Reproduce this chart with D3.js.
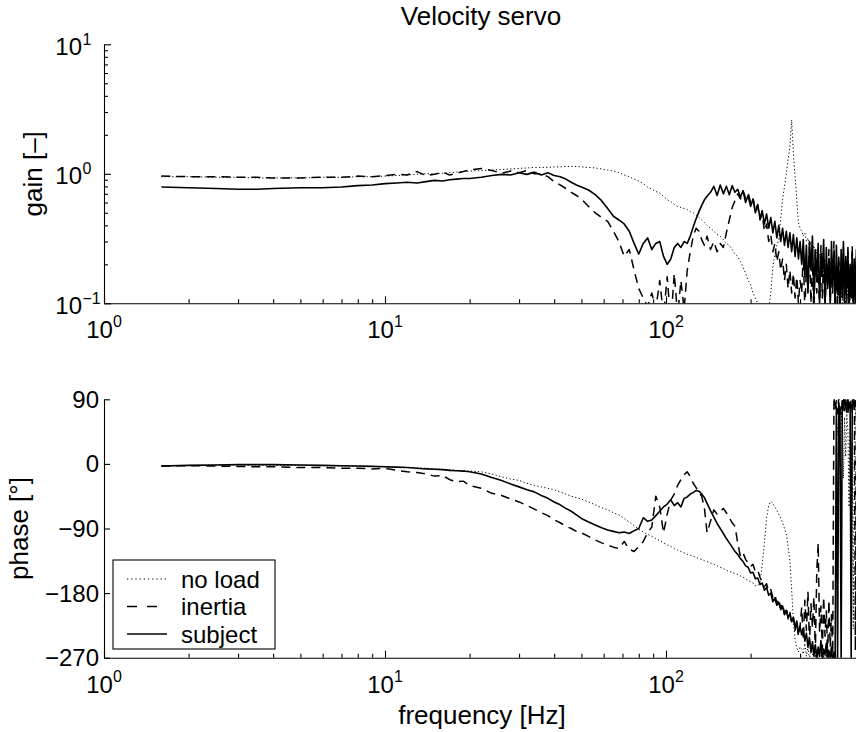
<!DOCTYPE html>
<html><head><meta charset="utf-8">
<script src="https://cdn.jsdelivr.net/npm/d3@7"></script>
<style>
body{margin:0;background:#fff}
text{font-family:"Liberation Sans",Arial,Helvetica,sans-serif;fill:#000}
</style>
</head><body>
<svg id="c" width="856" height="732"></svg>
<script>
// ---------------- DATA ----------------
const freq = [
 1.6,2,2.5,3,3.5,4,5,6,7,8,
 9,10,11,12,13,14,15,16,17,18,
 19,20,22,24,26,28,30,32,34,36,
 38,40,42,44,46,48,50,53,56,59,
 62,65,68,71,74,77,80,83,86,89,
 92,95,98,101,104,107,110,113,116,119,
 122,125,128,131,134,137,140,144,148,152,
 156,160,164,168,172,176,180,184,188,192,
 196,200,204,208,212,216,220,224,228,232,
 236,240,244,248,252,256,260,264,268,272,
 276,280,284,288,292,296,300,
 304,308,312,316,320,324,328,332,336,340,
 344,348,352,356,360,364,368,372,376,380,
 384,388,392,396,400,404,408,412,416,420,
 424,428,432,436,440,444,448,452,456,460,
 464,468,472,476,480
];

const noloadGain = [
 0.95,0.95,0.94,0.94,0.93,0.93,0.93,0.94,0.94,0.95,
 0.95,0.96,0.97,0.98,0.99,1.0,1.0,1.01,1.02,1.03,
 1.04,1.05,1.06,1.07,1.08,1.09,1.1,1.11,1.12,1.12,
 1.12,1.13,1.13,1.14,1.14,1.14,1.13,1.12,1.11,1.09,
 1.07,1.05,1.02,0.98,0.95,0.91,0.88,0.84,0.79,0.76,
 0.73,0.71,0.67,0.63,0.61,0.58,0.56,0.55,0.54,0.53,
 0.51,0.5,0.48,0.46,0.44,0.42,0.4,0.38,0.36,0.34,
 0.33,0.31,0.29,0.28,0.26,0.24,0.23,0.21,0.19,0.17,
 0.15,0.14,0.12,0.11,0.1,0.085,0.07,0.06,0.07,0.09,
 0.12,0.19,0.24,0.28,0.31,0.45,0.63,0.8,1.0,1.3,
 1.6,2.6,1.45,0.95,0.63,0.42,0.38,
 0.36,0.33,0.35,0.3,0.32,0.27,0.3,0.25,0.28,0.22,
 0.26,0.2,0.24,0.18,0.25,0.16,0.22,0.19,0.14,0.21,
 0.17,0.13,0.2,0.15,0.12,0.19,0.14,0.11,0.18,0.13,
 0.1,0.17,0.12,0.09,0.16,0.11,0.14,0.1,0.15,0.12,
 0.09,0.13,0.11,0.14,0.1
];

const inertiaGain = [
 0.96,0.95,0.95,0.94,0.94,0.93,0.93,0.94,0.94,0.96,
 0.95,0.97,0.99,0.98,1.04,0.97,0.99,1.03,0.98,1.01,
 1.04,1.07,1.1,1.06,1.01,1.05,1.02,1.06,1.0,1.0,
 0.95,0.87,0.82,0.77,0.72,0.68,0.64,0.56,0.5,0.46,
 0.43,0.36,0.3,0.23,0.26,0.18,0.13,0.11,0.095,0.12,
 0.09,0.15,0.08,0.16,0.07,0.17,0.08,0.15,0.09,0.18,
 0.25,0.33,0.38,0.36,0.31,0.28,0.33,0.26,0.3,0.25,
 0.29,0.27,0.35,0.44,0.55,0.62,0.7,0.64,0.74,0.65,
 0.71,0.6,0.65,0.52,0.57,0.44,0.49,0.36,0.41,0.3,
 0.34,0.25,0.29,0.21,0.25,0.18,0.22,0.15,0.2,0.13,
 0.18,0.12,0.17,0.11,0.16,0.1,0.15,
 0.12,0.24,0.09,0.19,0.13,0.27,0.1,0.21,0.08,0.25,
 0.12,0.2,0.09,0.28,0.11,0.23,0.08,0.19,0.14,0.26,
 0.09,0.22,0.12,0.3,0.08,0.2,0.1,0.24,0.09,0.18,
 0.13,0.27,0.08,0.21,0.1,0.25,0.09,0.19,0.12,0.28,
 0.08,0.2,0.11,0.23,0.09
];

const subjectGain = [
 0.79,0.78,0.77,0.76,0.76,0.77,0.78,0.78,0.79,0.81,
 0.82,0.84,0.85,0.86,0.85,0.87,0.89,0.88,0.9,0.91,
 0.92,0.92,0.94,0.97,0.99,0.98,1.02,0.99,1.03,0.98,
 1.02,0.97,0.95,0.91,0.86,0.82,0.79,0.75,0.69,0.62,
 0.54,0.47,0.44,0.41,0.36,0.29,0.24,0.29,0.32,0.26,
 0.29,0.3,0.23,0.2,0.22,0.27,0.29,0.27,0.3,0.29,
 0.33,0.39,0.45,0.51,0.57,0.63,0.67,0.72,0.8,0.68,
 0.82,0.7,0.8,0.69,0.81,0.72,0.76,0.66,0.74,0.6,
 0.68,0.56,0.64,0.5,0.58,0.45,0.52,0.41,0.49,0.38,
 0.46,0.35,0.43,0.32,0.4,0.3,0.38,0.28,0.36,0.27,
 0.35,0.25,0.34,0.23,0.32,0.22,0.3,
 0.2,0.31,0.16,0.28,0.12,0.3,0.18,0.33,0.11,0.26,
 0.15,0.29,0.1,0.24,0.17,0.31,0.09,0.27,0.13,0.22,
 0.1,0.3,0.14,0.25,0.09,0.28,0.12,0.21,0.08,0.26,
 0.11,0.3,0.09,0.23,0.13,0.27,0.08,0.2,0.11,0.25,
 0.09,0.22,0.1,0.26,0.12
];

const noloadPhase = [
 -3,-2,-1.5,-1.5,-1.5,-2,-2,-2.5,-3,-3,
 -3.5,-4,-4.5,-5,-5.5,-6,-7,-7.5,-8,-9,
 -9.5,-10,-11,-14,-18,-21,-23,-27,-30,-32,
 -34,-36,-39,-42,-45,-47,-49,-53,-57,-61,
 -64,-68,-71,-76,-81,-86,-91,-95,-98,-101,
 -104,-107,-110,-113,-115,-118,-120,-122,-124,-126,
 -127,-129,-130,-132,-133,-135,-136,-138,-140,-142,
 -144,-146,-148,-150,-151,-153,-154,-156,-158,-160,
 -162,-164,-166,-170,-170,-166,-140,-110,-75,-58,
 -52,-55,-60,-65,-70,-76,-82,-90,-98,-115,
 -135,-175,-220,-245,-256,-262,-255,
 -258,-265,-250,-268,-255,-272,-260,-266,-252,-270,
 -258,-275,-262,-268,-256,-274,-261,-270,-257,-276,
 -264,-270,-259,-275,-266,60,40,75,20,55,
 80,-20,65,10,70,45,-60,50,-140,30,
 -230,40,70,85,60
];

const inertiaPhase = [
 -3,-2.5,-3,-3.5,-4,-4,-5,-5,-6,-6,
 -7,-6,-9,-11,-12,-14,-17,-16,-22,-25,
 -24,-30,-34,-41,-44,-49,-53,-58,-63,-68,
 -72,-78,-82,-87,-90,-94,-96,-101,-106,-110,
 -113,-116,-118,-108,-119,-122,-115,-108,-96,-88,
 -45,-60,-96,-70,-50,-42,-30,-22,-15,-11,
 -18,-27,-33,-40,-45,-62,-96,-80,-64,-70,
 -66,-62,-68,-75,-82,-87,-110,-129,-124,-133,
 -138,-143,-140,-150,-148,-158,-165,-171,-167,-178,
 -175,-186,-182,-194,-188,-201,-195,-209,-200,-216,
 -207,-223,-214,-232,-220,-240,-226,
 -200,-245,-190,-232,-178,-250,-195,-228,-185,-262,
 -150,-110,-235,-198,-258,-185,-240,-205,-268,-190,
 -255,-210,-275,95,75,88,70,92,80,68,
 86,96,74,84,92,70,86,78,90,72,
 85,95,-260,80,88
];

const subjectPhase = [
 -3,-2,-1.5,-1,-1,-1,-1.5,-2,-2.5,-3,
 -3.5,-4,-4.5,-5,-6,-7,-7.5,-8,-9,-9.5,
 -10,-11,-14,-19,-23,-28,-32,-36,-39,-44,
 -48,-53,-57,-62,-66,-71,-76,-81,-85,-89,
 -92,-94,-96,-95,-97,-93,-90,-75,-80,-78,
 -72,-66,-60,-56,-50,-58,-54,-60,-48,-46,
 -42,-40,-37,-38,-42,-47,-55,-65,-74,-83,
 -90,-97,-104,-110,-116,-122,-126,-132,-136,-142,
 -144,-152,-151,-160,-159,-168,-166,-176,-172,-183,
 -180,-192,-187,-197,-193,-203,-198,-210,-204,-214,
 -209,-220,-214,-228,-219,-236,-226,
 -238,-229,-247,-236,-255,-243,-262,-248,-268,-252,
 -272,-255,-268,-246,-275,-258,-266,-250,-278,-260,
 -270,-255,-280,-262,-275,80,-270,85,70,-275,
 88,75,95,82,72,90,78,86,-272,84,
 92,76,88,80,90
];

const seriesNames = ["no load","inertia","subject"];
const freqTicks = [1,10,100];
const freqTickExp = ["0","1","2"];
const gainTicks = [0.1,1,10];
const gainTickExp = ["\u22121","0","1"];
const phaseTicks = [-270,-180,-90,0,90];
const titleText = "Velocity servo";
const gainLabel = "gain [\u2013]";
const phaseLabel = "phase [\u00b0]";
const freqLabel = "frequency [Hz]";

// ---------------- DRAW ----------------
const svg = d3.select("#c");
const X0 = 104, DEC = 281;
const x = d3.scaleLog().domain([1,500]).range([X0, X0 + DEC*Math.log10(500)]);
const yG = d3.scaleLog().domain([0.1,10]).range([303.3,44.3]);
const yP = d3.scaleLinear().domain([-270,90]).range([657.7,399.3]);

const styles = [
  {w:1.0, dash:"1.2 2.4", legDash:"1.2 3"},
  {w:1.5, dash:"9 6", legDash:"10 10"},
  {w:1.6, dash:null, legDash:null}
];
const gainSeries = [noloadGain, inertiaGain, subjectGain];
const phaseSeries = [noloadPhase, inertiaPhase, subjectPhase];

const defs = svg.append("defs");
defs.append("clipPath").attr("id","clipG").append("rect")
  .attr("x",X0).attr("y",yG.range()[1]).attr("width",800).attr("height",yG.range()[0]-yG.range()[1]);
defs.append("clipPath").attr("id","clipP").append("rect")
  .attr("x",X0).attr("y",yP.range()[1]).attr("width",800).attr("height",yP.range()[0]-yP.range()[1]);

const minorX = [2,3,4,5,6,7,8,9,20,30,40,50,60,70,80,90,200,300,400];
const minorG = [0.2,0.3,0.4,0.5,0.6,0.7,0.8,0.9,2,3,4,5,6,7,8,9];

function drawXAxis(yPos){
  const g1 = svg.append("g").attr("transform",`translate(0,${yPos})`)
    .call(d3.axisBottom(x).tickValues(freqTicks).tickSizeInner(-7).tickSizeOuter(0).tickFormat(""));
  const g2 = svg.append("g").attr("transform",`translate(0,${yPos})`)
    .call(d3.axisBottom(x).tickValues(minorX).tickSizeInner(-4).tickSizeOuter(0).tickFormat(""));
  g2.select(".domain").remove();
  [g1,g2].forEach(g=>{g.selectAll("path,line").attr("stroke","#000").attr("stroke-width",1.1);});
  freqTicks.forEach((t,i)=>{
    const tx = svg.append("text").attr("x",x(t)).attr("y",yPos+35)
      .attr("text-anchor","middle").attr("font-size",24);
    tx.append("tspan").text("10");
    tx.append("tspan").attr("dy",-11).attr("font-size",16).text(freqTickExp[i]);
  });
}

// Top: gain
drawXAxis(yG(0.1));
{
  const g1 = svg.append("g").attr("transform",`translate(${X0},0)`)
    .call(d3.axisLeft(yG).tickValues(gainTicks).tickSizeInner(-7).tickSizeOuter(0).tickFormat(""));
  const g2 = svg.append("g").attr("transform",`translate(${X0},0)`)
    .call(d3.axisLeft(yG).tickValues(minorG).tickSizeInner(-4).tickSizeOuter(0).tickFormat(""));
  g2.select(".domain").remove();
  [g1,g2].forEach(g=>{g.selectAll("path,line").attr("stroke","#000").attr("stroke-width",1.1);});
  gainTicks.forEach((t,i)=>{
    svg.append("text").attr("x",82).attr("y",yG(t)+10.5).attr("text-anchor","end")
      .attr("font-size",24).text("10");
    svg.append("text").attr("x",82.5).attr("y",yG(t)+0.5).attr("font-size",16).text(gainTickExp[i]);
  });
}
const lineG = d3.line().x((d,i)=>x(freq[i])).y(d=>yG(d));
const gTop = svg.append("g").attr("clip-path","url(#clipG)");
gainSeries.forEach((s,k)=>{
  gTop.append("path").attr("d",lineG(s)).attr("fill","none").attr("stroke","#000")
    .attr("stroke-width",styles[k].w).attr("stroke-dasharray",styles[k].dash)
    .attr("stroke-linejoin","round");
});

// Bottom: phase
drawXAxis(yP(-270));
{
  const g1 = svg.append("g").attr("transform",`translate(${X0},0)`)
    .call(d3.axisLeft(yP).tickValues(phaseTicks).tickSizeInner(-6).tickSizeOuter(0).tickFormat(""));
  g1.selectAll("path,line").attr("stroke","#000").attr("stroke-width",1.1);
  phaseTicks.forEach(t=>{
    svg.append("text").attr("x",99).attr("y",yP(t)+8.5).attr("text-anchor","end")
      .attr("font-size",24).text(String(t).replace("-","\u2212"));
  });
}
const lineP = d3.line().x((d,i)=>x(freq[i])).y(d=>yP(d));
const gBot = svg.append("g").attr("clip-path","url(#clipP)");
phaseSeries.forEach((s,k)=>{
  gBot.append("path").attr("d",lineP(s)).attr("fill","none").attr("stroke","#000")
    .attr("stroke-width",styles[k].w).attr("stroke-dasharray",styles[k].dash)
    .attr("stroke-linejoin","round");
});

// Titles and labels
svg.append("text").attr("x",481).attr("y",25).attr("text-anchor","middle").attr("font-size",26).text(titleText);
svg.append("text").attr("transform",`translate(42,${(yG.range()[0]+yG.range()[1])/2}) rotate(-90)`)
  .attr("text-anchor","middle").attr("font-size",26).text(gainLabel);
svg.append("text").attr("transform",`translate(28,${(yP.range()[0]+yP.range()[1])/2}) rotate(-90)`)
  .attr("text-anchor","middle").attr("font-size",26).text(phaseLabel);
svg.append("text").attr("x",482).attr("y",724).attr("text-anchor","middle").attr("font-size",26).text(freqLabel);

// Legend
const leg = svg.append("g");
leg.append("rect").attr("x",113).attr("y",560).attr("width",162).attr("height",89)
  .attr("fill","#fff").attr("stroke","#000").attr("stroke-width",1.1);
seriesNames.forEach((n,k)=>{
  const cy = 579 + k*27.5;
  leg.append("line").attr("x1",127).attr("x2",167).attr("y1",cy).attr("y2",cy)
    .attr("stroke","#000").attr("stroke-width",styles[k].w).attr("stroke-dasharray",styles[k].legDash);
  leg.append("text").attr("x",181).attr("y",cy+8.5).attr("font-size",24).text(n);
});
</script>
</body></html>
